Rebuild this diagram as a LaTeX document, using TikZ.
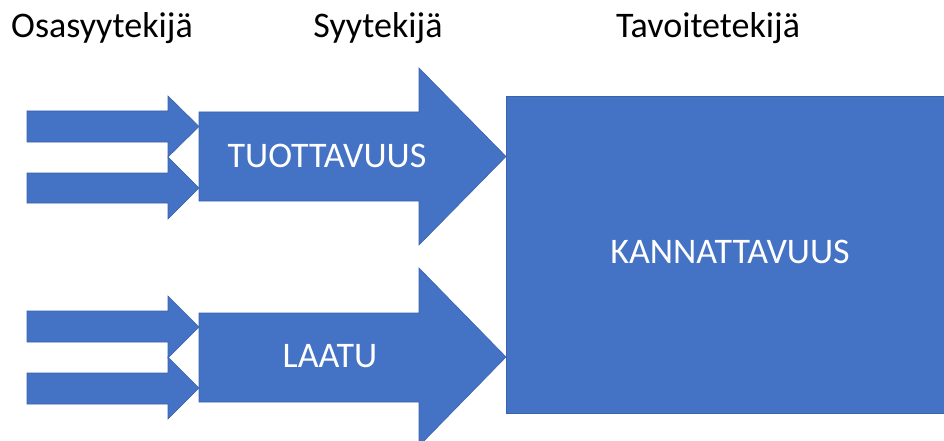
\documentclass[tikz,border=0pt]{standalone}
\usepackage{fontspec}
\setmainfont{Carlito}
\definecolor{officeblue}{HTML}{4472C4}
\definecolor{officeedge}{HTML}{3A62AD}
\tikzset{
  shapefill/.style={fill=officeblue, draw=officeedge, line width=0.6pt, line join=miter},
  headtext/.style={font=\fontsize{36}{42}\selectfont, text=black, inner sep=0pt, anchor=base},
  intext/.style={font=\fontsize{36}{42}\selectfont, text=white, inner sep=0pt, anchor=base},
}
\begin{document}
\begin{tikzpicture}[x=1pt,y=-1pt]
\useasboundingbox (0,0) rectangle (944,441);
\clip (0,0) rectangle (944,441);
% small arrows (upper group)
\path[shapefill] (27,111) -- (168,111) -- (168,96) -- (199,126.5) -- (168,157) -- (168,142) -- (27,142) -- cycle;
\path[shapefill] (27,173) -- (168,173) -- (168,157) -- (199,188) -- (168,219) -- (168,203) -- (27,203) -- cycle;
% small arrows (lower group)
\path[shapefill] (27,311) -- (168,311) -- (168,296) -- (199,327) -- (168,358) -- (168,342) -- (27,342) -- cycle;
\path[shapefill] (27,373) -- (168,373) -- (168,357) -- (199,388) -- (168,419) -- (168,404) -- (27,404) -- cycle;
% big arrows
\path[shapefill] (199,112) -- (419,112) -- (419,68) -- (506,156.5) -- (419,245) -- (419,201) -- (199,201) -- cycle;
\path[shapefill] (199,313) -- (419,313) -- (419,268) -- (506,357) -- (419,446) -- (419,402) -- (199,402) -- cycle;
% target box
\path[shapefill] (506,96) rectangle (960,413);
% texts
\node[headtext] (osa) at (102,38) {Osasyytekijä};
\node[headtext] (syy) at (378,38) {Syytekijä};
\node[headtext] (tav) at (708,38) {Tavoitetekijä};
\node[intext] (tuot) at (327,167) {TUOTTAVUUS};
\node[intext] (laatu) at (330,367) {LAATU};
\node[intext] (kann) at (730,263) {KANNATTAVUUS};
\end{tikzpicture}
\end{document}
